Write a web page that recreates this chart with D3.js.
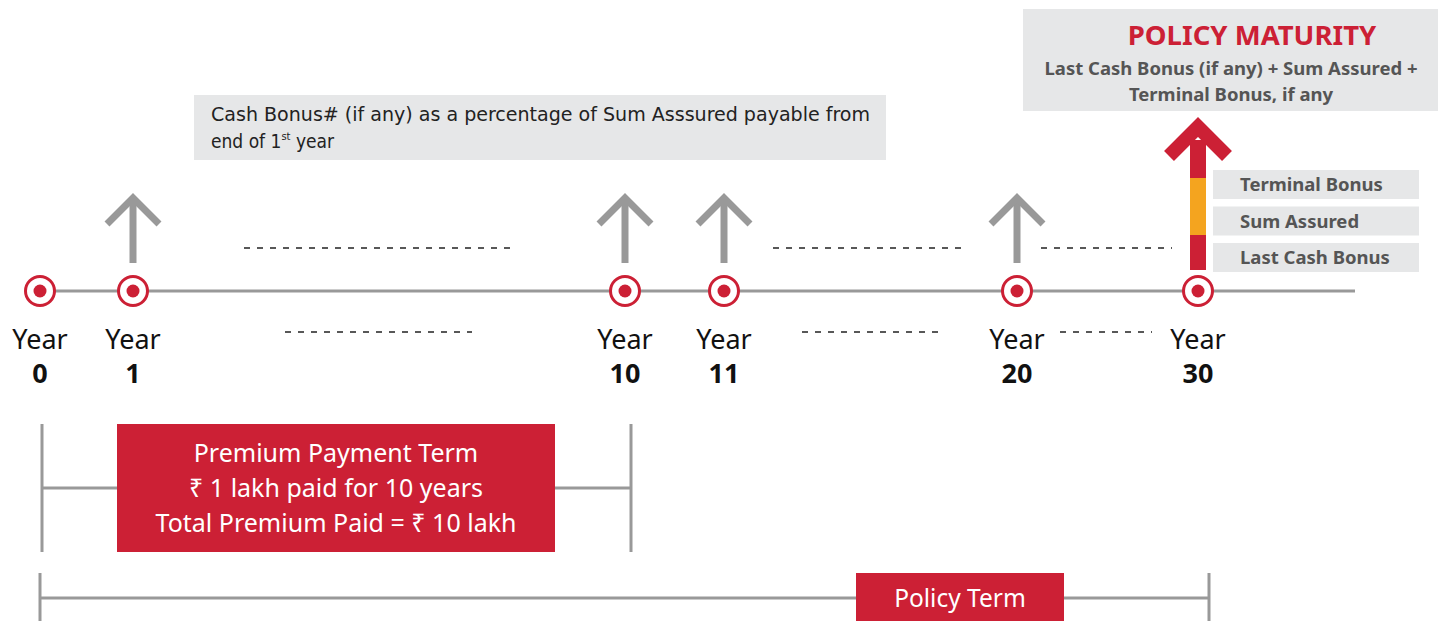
<!DOCTYPE html>
<html>
<head>
<meta charset="utf-8">
<script src="https://cdn.jsdelivr.net/npm/d3@7"></script>
<style>
  html, body { margin: 0; padding: 0; background: #fff; }
  text { font-family: "Noto Sans", "DejaVu Sans", sans-serif; }
</style>
</head>
<body>
<div id="chart"></div>
<script>
// timeline data
var years = [0, 1, 10, 11, 20, 30];
var bonusYears = [1, 10, 11, 20];
var gaps = [[1, 10], [11, 20], [20, 30]];
var maturityParts = ["Terminal Bonus", "Sum Assured", "Last Cash Bonus"];
var maturityTitle = "POLICY MATURITY";
var maturityLines = ["Last Cash Bonus (if any) + Sum Assured +", "Terminal Bonus, if any"];
var cashBonusLines = ["Cash Bonus# (if any) as a percentage of Sum Asssured payable from", "end of 1"];
var premiumLines = ["Premium Payment Term", "\u20B9 1 lakh paid for 10 years", "Total Premium Paid = \u20B9 10 lakh"];
var premiumTerm = [0, 10];
var policyTerm = [0, 30];

var width = 1442, height = 621;
var red = "#cc2035", grey = "#999999", orange = "#f4a41f", boxGrey = "#e6e7e8";
var lineY = 291;

// schematic (not to scale) positions for each year node
var x = d3.scaleLinear().domain(years).range([40, 133, 625, 724, 1017, 1198]);

var svg = d3.select("#chart").append("svg")
  .attr("width", width).attr("height", height);

// main timeline
svg.append("line")
  .attr("x1", x(0)).attr("x2", 1355).attr("y1", lineY).attr("y2", lineY)
  .attr("stroke", grey).attr("stroke-width", 3);

// dashed gap markers
var dash = svg.append("g").attr("stroke", "#222").attr("stroke-width", 1.4)
  .attr("stroke-dasharray", "6,7");
var upperInset = [[111, 113], [49, 51], [24, 26]];
var lowerInset = [[152, 153], [78, 79], [43, 46]];
gaps.forEach(function (g, i) {
  dash.append("line")
    .attr("x1", x(g[0]) + upperInset[i][0]).attr("x2", x(g[1]) - upperInset[i][1])
    .attr("y1", 248).attr("y2", 248);
  dash.append("line")
    .attr("x1", x(g[0]) + lowerInset[i][0]).attr("x2", x(g[1]) - lowerInset[i][1])
    .attr("y1", 332).attr("y2", 332);
});

// grey bonus arrows
var arrows = svg.selectAll(".arrow").data(bonusYears).enter().append("g")
  .attr("class", "arrow")
  .attr("transform", function (d) { return "translate(" + x(d) + ",0)"; })
  .attr("stroke", grey).attr("stroke-width", 7).attr("fill", "none");
arrows.append("line").attr("x1", 0).attr("x2", 0).attr("y1", 263).attr("y2", 199);
arrows.append("path").attr("d", "M-26,224 L0,198 L26,224");

// maturity arrow at final year
var mx = x(30);
var mg = svg.append("g");
var segs = [
  { y0: 235, y1: 270, c: red },
  { y0: 178, y1: 235, c: orange },
  { y0: 140, y1: 178, c: red }
];
mg.selectAll("rect").data(segs).enter().append("rect")
  .attr("x", mx - 8).attr("width", 16)
  .attr("y", function (d) { return d.y0; })
  .attr("height", function (d) { return d.y1 - d.y0; })
  .attr("fill", function (d) { return d.c; });
mg.append("path")
  .attr("d", "M" + (mx - 29) + ",156 L" + mx + ",127 L" + (mx + 29) + ",156")
  .attr("stroke", red).attr("stroke-width", 14).attr("fill", "none")
  .attr("stroke-linejoin", "miter");

// maturity component labels
var parts = svg.selectAll(".part").data(maturityParts).enter().append("g")
  .attr("class", "part")
  .attr("transform", function (d, i) { return "translate(1213," + (170 + i * 36.5) + ")"; });
parts.append("rect").attr("width", 206).attr("height", 29).attr("fill", boxGrey);
parts.append("text").attr("x", 27).attr("y", 21)
  .attr("font-size", 18.5).attr("font-weight", "bold").attr("fill", "#555")
  .text(function (d) { return d; });

// nodes
var nodes = svg.selectAll(".node").data(years).enter().append("g")
  .attr("class", "node")
  .attr("transform", function (d) { return "translate(" + x(d) + "," + lineY + ")"; });
nodes.append("circle").attr("r", 14.5).attr("fill", "#fff")
  .attr("stroke", red).attr("stroke-width", 3);
nodes.append("circle").attr("r", 6.5).attr("fill", red);
nodes.append("text").attr("y", 58).attr("text-anchor", "middle")
  .attr("font-size", 27).attr("fill", "#111").text("Year");
nodes.append("text").attr("y", 92).attr("text-anchor", "middle")
  .attr("font-size", 27).attr("font-weight", "bold").attr("fill", "#111")
  .text(function (d) { return d; });

// cash bonus note box
svg.append("rect").attr("x", 194).attr("y", 95).attr("width", 692).attr("height", 65)
  .attr("fill", boxGrey);
var cb = svg.append("text").attr("x", 211).attr("y", 121)
  .attr("font-size", 19).attr("fill", "#222")
  .style("font-family", "'Liberation Sans Narrow', 'DejaVu Sans Condensed', sans-serif");
cb.append("tspan").attr("x", 211).attr("y", 121)
  .attr("textLength", 659).attr("lengthAdjust", "spacingAndGlyphs")
  .text(cashBonusLines[0]);
cb.append("tspan").attr("x", 211).attr("y", 148).text(cashBonusLines[1]);
cb.append("tspan").attr("dy", -8).attr("font-size", 11).text("st");
cb.append("tspan").attr("dy", 8).text(" year");

// policy maturity box
svg.append("rect").attr("x", 1023).attr("y", 9).attr("width", 415).attr("height", 102)
  .attr("fill", boxGrey);
svg.append("text").attr("x", 1252).attr("y", 45).attr("text-anchor", "middle")
  .attr("font-size", 27.5).attr("font-weight", "bold").attr("fill", red)
  .text(maturityTitle);
svg.selectAll(".mline").data(maturityLines).enter().append("text")
  .attr("class", "mline")
  .attr("x", 1231).attr("y", function (d, i) { return 75 + i * 26; })
  .attr("text-anchor", "middle").attr("font-size", 18.5).attr("font-weight", "bold")
  .attr("fill", "#555").text(function (d) { return d; });

// premium payment term bracket
var pg = svg.append("g").attr("stroke", grey).attr("stroke-width", 3);
pg.append("line").attr("x1", x(premiumTerm[0]) + 2).attr("x2", x(premiumTerm[0]) + 2)
  .attr("y1", 424).attr("y2", 552);
pg.append("line").attr("x1", x(premiumTerm[1]) + 6).attr("x2", x(premiumTerm[1]) + 6)
  .attr("y1", 424).attr("y2", 552);
pg.append("line").attr("x1", x(premiumTerm[0]) + 2).attr("x2", x(premiumTerm[1]) + 6)
  .attr("y1", 488).attr("y2", 488);
svg.append("rect").attr("x", 117).attr("y", 424).attr("width", 438).attr("height", 128)
  .attr("fill", red);
svg.selectAll(".pline").data(premiumLines).enter().append("text")
  .attr("class", "pline")
  .attr("x", 336).attr("y", function (d, i) { return 462 + i * 35; })
  .attr("text-anchor", "middle").attr("font-size", 25).attr("fill", "#fff")
  .text(function (d) { return d; });

// policy term bracket
var tg = svg.append("g").attr("stroke", grey).attr("stroke-width", 3);
tg.append("line").attr("x1", x(policyTerm[0])).attr("x2", x(policyTerm[0]))
  .attr("y1", 573).attr("y2", 621);
tg.append("line").attr("x1", x(policyTerm[1]) + 11).attr("x2", x(policyTerm[1]) + 11)
  .attr("y1", 573).attr("y2", 621);
tg.append("line").attr("x1", x(policyTerm[0])).attr("x2", x(policyTerm[1]) + 11)
  .attr("y1", 598).attr("y2", 598);
svg.append("rect").attr("x", 856).attr("y", 573).attr("width", 208).attr("height", 48)
  .attr("fill", red);
svg.append("text").attr("x", 960).attr("y", 607).attr("text-anchor", "middle")
  .attr("font-size", 24.5).attr("fill", "#fff").text("Policy Term");
</script>
</body>
</html>
